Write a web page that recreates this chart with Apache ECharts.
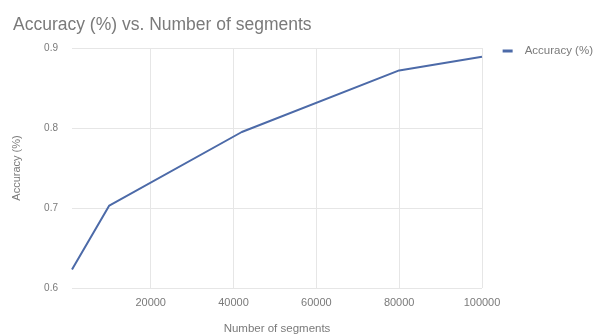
<!DOCTYPE html>
<html>
<head>
<meta charset="utf-8">
<script src="https://cdn.jsdelivr.net/npm/echarts@6/dist/echarts.min.js"></script>
<style>
  html, body { margin: 0; padding: 0; background: #fff; }
  #chart { width: 606px; height: 336px; }
</style>
</head>
<body>
<div id="chart"></div>
<script>
// Accuracy measured at each segment count
const segments = [1000, 10000, 42000, 80000, 100000];
const accuracy = [0.623, 0.703, 0.795, 0.872, 0.889];
const xTicks = [20000, 40000, 60000, 80000, 100000];
const seriesName = 'Accuracy (%)';

const chart = echarts.init(document.getElementById('chart'));
const grey = '#7a7a7a';
const gridColor = '#e6e6e6';
const font = 'Liberation Sans, Arial';

chart.setOption({
  animation: false,
  backgroundColor: '#fff',
  title: {
    text: 'Accuracy (%) vs. Number of segments',
    left: 8, top: 11,
    textStyle: { fontFamily: font, fontSize: 17.5, fontWeight: 'normal', color: grey }
  },
  legend: {
    right: 8, top: 40,
    itemWidth: 10, itemHeight: 3, itemGap: 6,
    icon: 'rect',
    textStyle: { fontFamily: font, fontSize: 11.5, color: grey, padding: [0, 0, 0, 7] },
    data: [seriesName]
  },
  grid: { left: 72, top: 48, width: 410, height: 240, outerBoundsMode: 'none', containLabel: false },
  xAxis: {
    type: 'value',
    min: segments[0], max: 100000,
    name: 'Number of segments',
    nameLocation: 'middle', nameGap: 35,
    nameTextStyle: { fontFamily: font, fontSize: 11.5, color: grey },
    axisLine: { show: false },
    axisTick: { show: false, customValues: xTicks },
    axisLabel: { customValues: xTicks, fontFamily: font, fontSize: 11, color: grey, margin: 9, formatter: v => String(v) },
    splitLine: { show: true, lineStyle: { color: gridColor, width: 1 } }
  },
  yAxis: {
    type: 'value',
    min: 0.6, max: 0.9, interval: 0.1,
    name: 'Accuracy (%)',
    nameLocation: 'middle', nameGap: 50,
    nameTextStyle: { fontFamily: font, fontSize: 11, color: grey },
    axisLine: { show: false },
    axisTick: { show: false },
    axisLabel: { fontFamily: font, fontSize: 10, color: grey, margin: 14, formatter: v => v.toFixed(1) },
    splitLine: { lineStyle: { color: gridColor, width: 1 } }
  },
  series: [{
    name: seriesName,
    type: 'line',
    data: segments.map((s, i) => [s, accuracy[i]]),
    showSymbol: false,
    symbol: 'none',
    lineStyle: { color: '#4c6aa8', width: 2 },
    itemStyle: { color: '#4c6aa8' }
  }]
});
</script>
</body>
</html>
